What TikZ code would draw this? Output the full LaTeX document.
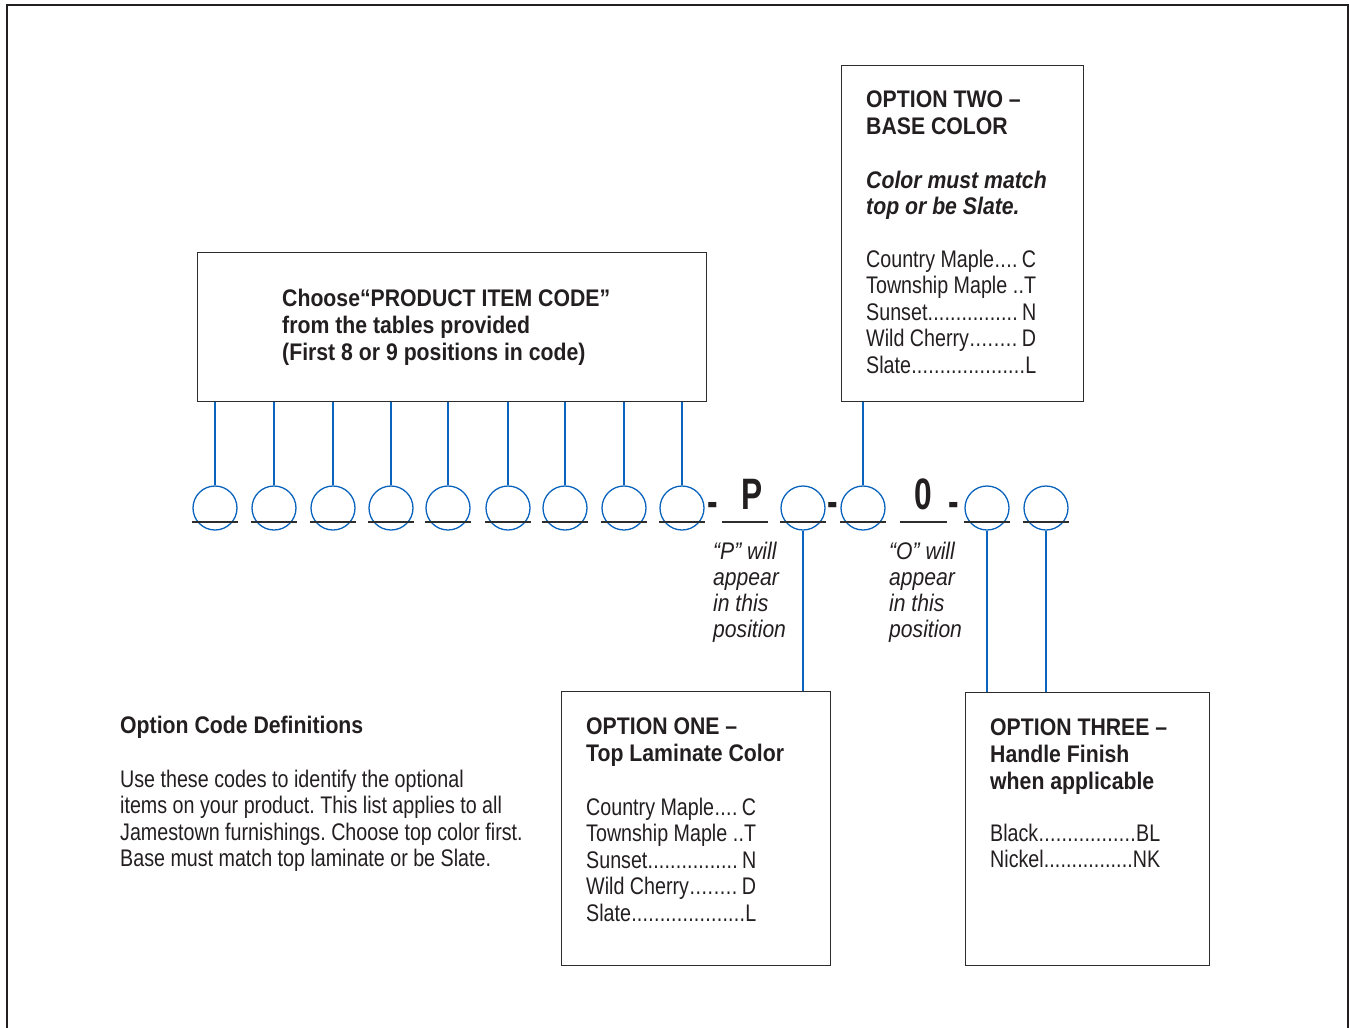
\documentclass[tikz,border=0pt]{standalone}
\usepackage{fontspec}
\setmainfont{Liberation Sans}[FakeStretch=0.82]
\newfontfamily\hfont{Liberation Sans}[FakeStretch=0.885]
\newfontfamily\itfont{Liberation Sans}[FakeStretch=0.88]
\newfontfamily\bigfont{Liberation Sans}[FakeStretch=0.72]
\definecolor{tc}{RGB}{35,31,32}
\definecolor{blu}{RGB}{10,100,190}
\definecolor{boxc}{RGB}{45,45,45}
\newcommand\itm[2]{\hbox to 170pt{#1\xleaders\hbox{.}\hfill#2}}
\frenchspacing
\begin{document}
\begin{tikzpicture}[x=1pt,y=-1pt,
  box/.style={draw=boxc, line width=1.2pt, inner sep=0pt, anchor=north west},
  circ/.style={circle, draw=blu, line width=1.3pt, minimum size=44pt, inner sep=0pt},
  conn/.style={draw=blu, line width=2.5pt},
  uline/.style={draw=boxc, line width=2.5pt},
  frame/.style={draw=tc, line width=2.8pt},
  txt/.style={anchor=base west, inner sep=0pt, text=tc, font=\frenchspacing\fontsize{24}{26.5}\selectfont},
  note/.style={anchor=base west, inner sep=0pt, text=tc, font=\itfont\itshape\fontsize{24}{26}\selectfont},
  head/.style={anchor=base west, inner sep=0pt, text=tc, font=\hfont\bfseries\fontsize{24}{27}\selectfont},
  headit/.style={anchor=base west, inner sep=0pt, text=tc, font=\hfont\bfseries\itshape\fontsize{24}{26}\selectfont},
  big/.style={anchor=base, inner sep=0pt, text=tc, font=\bigfont\bfseries\fontsize{44}{44}\selectfont}
]
\useasboundingbox (0,0) rectangle (1350,1028);
\draw[frame] (7,1028) -- (7,5) -- (1348,5) -- (1348,1028);

% boxes
\node[box, minimum width=509pt, minimum height=149pt] (top) at (197,252) {};
\node[box, minimum width=242pt, minimum height=336pt] (two) at (841,65) {};
\node[box, minimum width=269pt, minimum height=274pt] (one) at (561,691) {};
\node[box, minimum width=244pt, minimum height=273pt] (three) at (965,692) {};

% circles
\foreach \n/\x in {1/215,2/274,3/333,4/391,5/448,6/508,7/565,8/624,9/682,10/803,11/863,12/987,13/1046}{
  \node[circ] (c\n) at (\x,508) {};
}
\foreach \n in {1,...,9}{
  \draw[conn] (c\n.north) -- (c\n.north |- top.south);
}
\draw[conn] (c10.south) -- (c10.south |- one.north);
\draw[conn] (c11.north) -- (c11.north |- two.south);
\draw[conn] (c12.south) -- (c12.south |- three.north);
\draw[conn] (c13.south) -- (c13.south |- three.north);

% underlines
\foreach \n in {1,...,13}{
  \draw[uline] ([xshift=-23pt]c\n.center |- 0,522) -- ([xshift=23pt]c\n.center |- 0,522);
}
\draw[uline] (722,522) -- (768,522);
\draw[uline] (900,522) -- (947,522);

% P, 0 and hyphens
\node[big] (P) at (752,509) {P};
\node[big] (O) at (923,509) {0};
\node[big] (h1) at (713,516) {-};
\node[big] (h2) at (833,516) {-};
\node[big] (h3) at (954,516) {-};

% texts
\node[head] (toptext) at (282,306) {\vtop{\hbox{Choose“PRODUCT ITEM CODE”}\hbox{from the tables provided}\hbox{(First 8 or 9 positions in code)}}};

\node[head] (twohead) at (866,107) {\vtop{\hbox{OPTION TWO –}\hbox{BASE COLOR}}};
\node[headit] (twonote) at (866,188) {\vtop{\hbox{Color must match}\hbox{top or be Slate.}}};
\node[txt] (twoitems) at (866,267) {\vtop{\itm{Country Maple}{\,C}\itm{Township Maple\ }{T}\itm{Sunset}{\,N}\itm{Wild Cherry}{\,D}\itm{Slate}{L}}};

\node[head] (onehead) at (586,734) {\vtop{\hbox{OPTION ONE –}\hbox{Top Laminate Color}}};
\node[txt] (oneitems) at (586,815) {\vtop{\itm{Country Maple}{\,C}\itm{Township Maple\ }{T}\itm{Sunset}{\,N}\itm{Wild Cherry}{\,D}\itm{Slate}{L}}};

\node[head] (threehead) at (990,735) {\vtop{\hbox{OPTION THREE –}\hbox{Handle Finish}\hbox{when applicable}}};
\node[txt] (threeitems) at (990,841) {\vtop{\itm{Black}{BL}\itm{Nickel}{NK}}};

\node[head] (defhead) at (120,733) {Option Code Definitions};
\node[txt] (deftext) at (120,787) {\vtop{\hbox{Use these codes to identify the optional}\hbox{items on your product. This list applies to all}\hbox{Jamestown furnishings. Choose top color first.}\hbox{Base must match top laminate or be Slate.}}};

\node[note] (pnote) at (713,559) {\vtop{\hbox{“P” will}\hbox{appear}\hbox{in this}\hbox{position}}};
\node[note] (onote) at (889,559) {\vtop{\hbox{“O” will}\hbox{appear}\hbox{in this}\hbox{position}}};
\end{tikzpicture}
\end{document}
